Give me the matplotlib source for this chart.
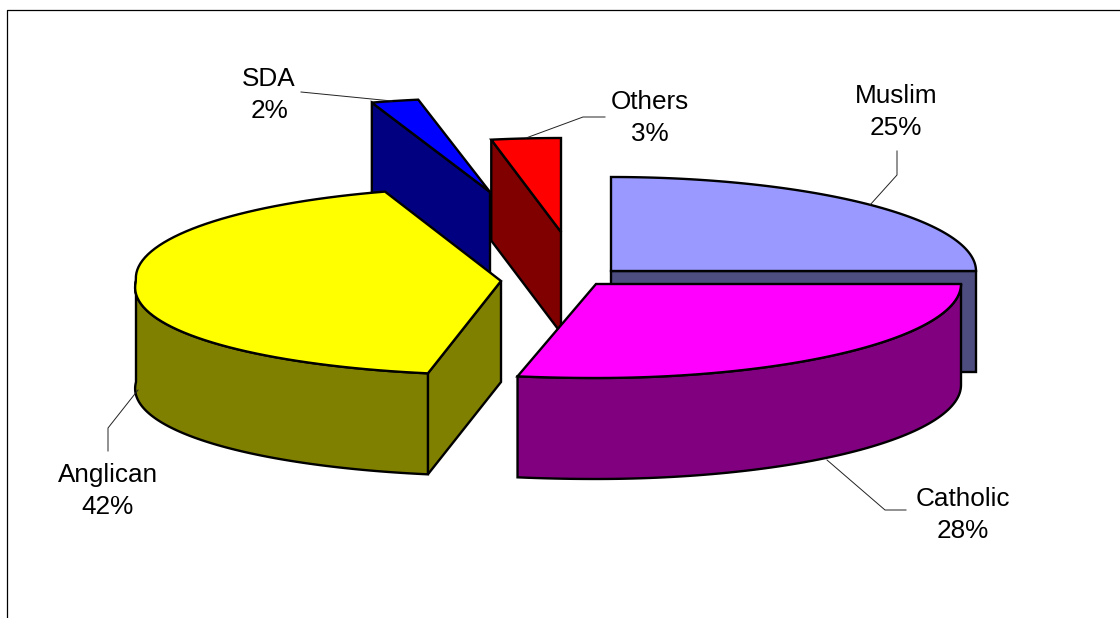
import numpy as np
import matplotlib
matplotlib.use('Agg')
import matplotlib.pyplot as plt
from matplotlib.patches import Polygon

categories = ['Muslim', 'Catholic', 'Anglican', 'SDA', 'Others']
values = [25, 28, 42, 2, 3]
top_colors = ['#9999FF', '#FF00FF', '#FFFF00', '#0000FF', '#FF0000']
side_colors = ['#4D4D80', '#800080', '#808000', '#000080', '#800000']

# pixel layout of each exploded slice: apex x, apex y, front stretch, back stretch
centers = {
    'Muslim': (611, 271, 0.0, 0.0),
    'Catholic': (596, 284, 0.15, 0.0),
    'Anglican': (501, 281, 0.07, 0.03),
    'SDA': (490, 192, 0.0, 0.05),
    'Others': (561, 232, 0.0, 0.02),
}
draw_order = ['Muslim', 'Others', 'SDA', 'Anglican', 'Catholic']
RX, RY, DEPTH = 365, 94, 101
LW = 1.7

label_pos = {
    'Muslim': (896, 112), 'Catholic': (963, 515), 'Anglican': (108, 491),
    'SDA': (269, 95), 'Others': (650, 118),
}
leaders = {
    'Muslim': ([897, 897, 870], [151, 175, 205]),
    'Catholic': ([906, 885, 827], [510, 510, 460]),
    'Anglican': ([108, 108, 138], [451, 428, 390]),
    'SDA': ([301, 392], [92, 101]),
    'Others': ([605, 583, 526], [117, 117, 138]),
}

plt.rcParams['font.family'] = ['Liberation Sans', 'DejaVu Sans']
fig = plt.figure(figsize=(11.2, 6.18), dpi=100)
ax = fig.add_axes([0, 0, 1, 1])
ax.set_xlim(0, 1120)
ax.set_ylim(618, 0)
ax.axis('off')

# chart frame: the reference is cut off at the right and bottom
ax.plot([7, 7, 1120], [618, 10, 10], color='black', lw=0.9)


def rim(name, a0, a1, n=80):
    cx, cy, front, back = centers[name]
    t = np.radians(np.linspace(a0, a1, n))
    s, c = np.sin(t), np.cos(t)
    f = 1 + np.where(c < 0, np.where(s < 0, front, back) * np.abs(s), 0)
    return np.column_stack([cx + RX * c * f, cy - RY * s])


def add_poly(pts, color):
    ax.add_patch(Polygon(pts, closed=True, facecolor=color, edgecolor='black',
                         lw=LW, joinstyle='miter'))


# slices run clockwise from twelve o'clock
fractions = np.array(values) / sum(values)
ends = 90 - 360 * np.cumsum(fractions)
starts = np.concatenate([[90], ends[:-1]])
angles = {c: (s, e) for c, s, e in zip(categories, starts, ends)}
tops = dict(zip(categories, top_colors))
sides = dict(zip(categories, side_colors))

for name in draw_order:
    a0, a1 = angles[name]
    apex = np.array(centers[name][:2], dtype=float)
    arc = rim(name, a0, a1)
    drop = np.array([0, DEPTH])

    if name == 'Muslim':
        # cut face along the right hand radius
        edge = np.array([apex, arc[-1]])
        add_poly(np.vstack([edge, edge[::-1] + drop]), sides[name])
    elif name == 'Catholic':
        wall = rim(name, 0, a1)
        add_poly(np.vstack([wall, wall[::-1] + drop]), sides[name])
    elif name == 'Anglican':
        edge = np.array([arc[0], apex])
        add_poly(np.vstack([edge, edge[::-1] + drop]), sides[name])
        wall = rim(name, a0, -180)
        add_poly(np.vstack([wall, wall[::-1] + drop]), sides[name])
    else:
        # SDA and Others show the face that runs back to the apex
        edge = np.array([arc[0], apex])
        add_poly(np.vstack([edge, edge[::-1] + drop]), sides[name])

    add_poly(np.vstack([apex, arc]), tops[name])

for name, (xs, ys) in leaders.items():
    ax.plot(xs, ys, color='#222222', lw=0.7, zorder=5)

for name, val in zip(categories, values):
    x, y = label_pos[name]
    ax.text(x, y, '{}\n{}%'.format(name, val), ha='center', va='center',
            fontsize=18.8, linespacing=1.42, color='black', zorder=6)

fig.savefig('out.png', dpi=100, facecolor='white')
